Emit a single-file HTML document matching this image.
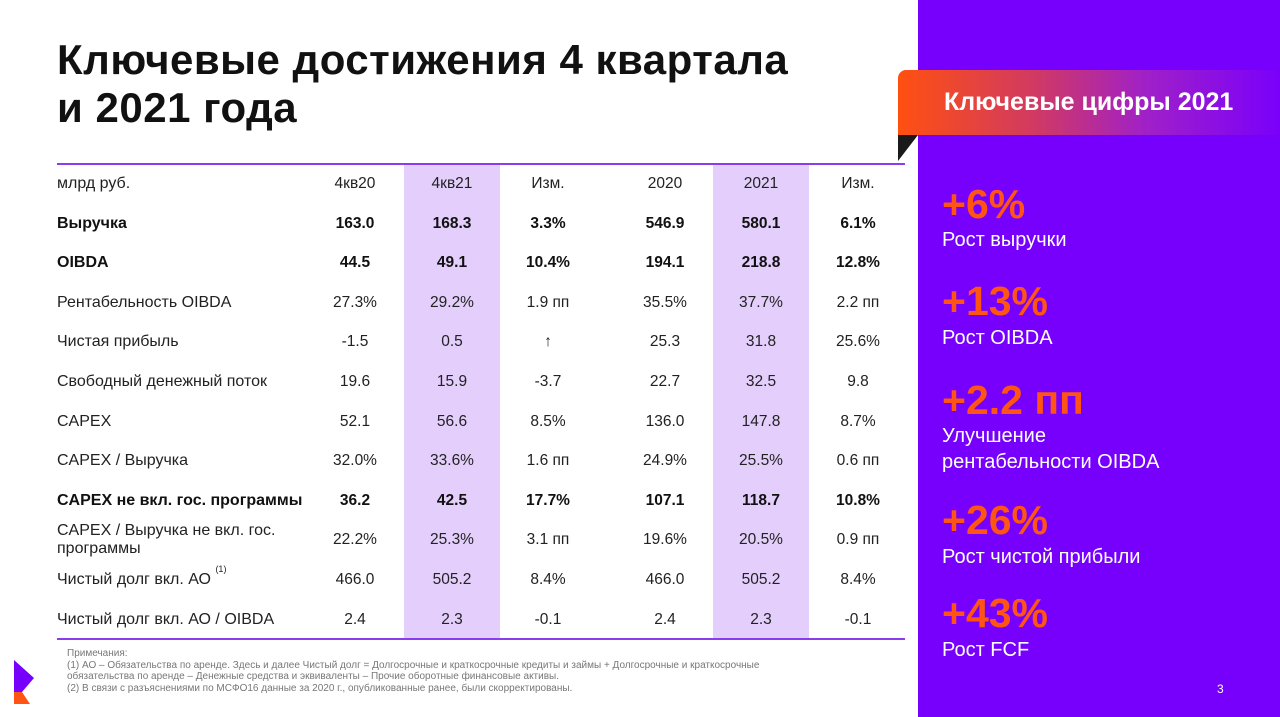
<!DOCTYPE html>
<html><head><meta charset="utf-8">
<style>
*{margin:0;padding:0;box-sizing:border-box}
body{width:1280px;height:717px;position:relative;overflow:hidden;background:#fff;font-family:"Liberation Sans","DejaVu Sans",sans-serif;color:#222}
.abs{position:absolute}
h1{position:absolute;left:57px;top:36px;font-size:42px;line-height:48px;font-weight:bold;color:#111;letter-spacing:0.5px}
.panel{position:absolute;left:918px;top:0;width:362px;height:717px;background:#7600fb}
.banner{position:absolute;left:898px;top:70px;width:382px;height:65px;border-radius:8px 0 0 0;background:linear-gradient(90deg,#ff5010 0%,#d23a60 35%,#a020c8 65%,#7a00fb 100%);color:#fff;font-size:25px;font-weight:bold;line-height:65px;padding-left:46px}
.fold{position:absolute;left:898px;top:135px;width:0;height:0;border-top:26px solid #1a1a1a;border-right:20px solid transparent}
.big{position:absolute;left:942px;color:#ff5414;font-size:41px;font-weight:bold;line-height:40px}
.lbl{position:absolute;left:942px;color:#fff;font-size:20px;line-height:26px}
.hl{position:absolute;top:165px;height:474px;background:#e4cefc}
.cell{position:absolute;font-size:15.5px;text-align:center;width:96px;line-height:18px;color:#222}
.rl{position:absolute;left:57px;font-size:16px;line-height:18px;width:270px;color:#222}
.rl sup{font-size:9px;line-height:0;position:relative;top:-2px;vertical-align:top}
.b{font-weight:bold;color:#111}
.line{position:absolute;left:57px;width:848px;height:2px;background:#8a3cf0}
.notes{position:absolute;left:67px;top:648px;font-size:10px;line-height:11.5px;color:#777;width:760px}
</style></head><body>
<h1>Ключевые достижения 4 квартала<br>и 2021 года</h1>
<div class="panel"></div>
<div class="fold"></div>
<div class="banner">Ключевые цифры 2021</div>

<div class="big" style="top:184px">+6%</div>
<div class="lbl" style="top:227px">Рост выручки</div>
<div class="big" style="top:281px">+13%</div>
<div class="lbl" style="top:325px">Рост OIBDA</div>
<div class="big" style="top:380px">+2.2 пп</div>
<div class="lbl" style="top:423px">Улучшение<br>рентабельности OIBDA</div>
<div class="big" style="top:500px">+26%</div>
<div class="lbl" style="top:544px">Рост чистой прибыли</div>
<div class="big" style="top:593px">+43%</div>
<div class="lbl" style="top:637px">Рост FCF</div>

<div class="hl" style="left:404px;width:96px"></div>
<div class="hl" style="left:713px;width:96px"></div>
<div class="line" style="top:163px"></div>
<div class="line" style="top:638px"></div>
<div id="tbl"></div>

<div class="notes">Примечания:<br>(1) АО – Обязательства по аренде. Здесь и далее Чистый долг = Долгосрочные и краткосрочные кредиты и займы + Долгосрочные и краткосрочные<br>обязательства по аренде – Денежные средства и эквиваленты – Прочие оборотные финансовые активы.<br>(2) В связи с разъяснениями по МСФО16 данные за 2020 г., опубликованные ранее, были скорректированы.</div>
<svg class="abs" style="left:8px;top:658px" width="34" height="48">
<polygon points="6,2 26,20 14,34 6,34" fill="#7600fb"/><polygon points="6,34 14,34 22,46 6,46" fill="#ff5414"/></svg>
<div class="abs" style="left:1217px;top:682px;font-size:12px;color:#fff">3</div>

<script>
const headers=["млрд руб.","4кв20","4кв21","Изм.","2020","2021","Изм."];
const rowLabels=["Выручка","OIBDA","Рентабельность OIBDA","Чистая прибыль","Свободный денежный поток","CAPEX","CAPEX / Выручка","CAPEX не вкл. гос. программы","CAPEX / Выручка не вкл. гос. программы","Чистый долг вкл. АО <sup>(1)</sup>","Чистый долг вкл. АО / OIBDA"];
const boldRows=[true,true,false,false,false,false,false,true,false,false,false];
const twoLine=[false,false,false,false,false,false,false,false,true,false,false];
const q420=["163.0","44.5","27.3%","-1.5","19.6","52.1","32.0%","36.2","22.2%","466.0","2.4"];
const q421=["168.3","49.1","29.2%","0.5","15.9","56.6","33.6%","42.5","25.3%","505.2","2.3"];
const qchg=["3.3%","10.4%","1.9 пп","↑","-3.7","8.5%","1.6 пп","17.7%","3.1 пп","8.4%","-0.1"];
const y20=["546.9","194.1","35.5%","25.3","22.7","136.0","24.9%","107.1","19.6%","466.0","2.4"];
const y21=["580.1","218.8","37.7%","31.8","32.5","147.8","25.5%","118.7","20.5%","505.2","2.3"];
const ychg=["6.1%","12.8%","2.2 пп","25.6%","9.8","8.7%","0.6 пп","10.8%","0.9 пп","8.4%","-0.1"];
const cols=[q420,q421,qchg,y20,y21,ychg];
const colX=[307,404,500,617,713,810];
const tbl=document.getElementById('tbl');
function rowY(i){return 175+i*39.6;}
headers.forEach((h,c)=>{
  const d=document.createElement('div');
  d.className=c===0?'rl':'cell';
  d.style.top=rowY(0)+'px';
  if(c>0)d.style.left=colX[c-1]+'px';
  d.textContent=h;
  
  
  tbl.appendChild(d);
});
rowLabels.forEach((lab,i)=>{
  const y=rowY(i+1);
  const l=document.createElement('div');
  l.className='rl'+(boldRows[i]?' b':'');
  l.style.top=(twoLine[i]?y-9:y)+'px';
  l.innerHTML=lab;
  
  
  tbl.appendChild(l);
  cols.forEach((col,c)=>{
    const d=document.createElement('div');
    d.className='cell'+(boldRows[i]?' b':'');
    d.style.top=y+'px';
    d.style.left=colX[c]+'px';
    d.textContent=col[i];
    
    
    tbl.appendChild(d);
  });
});
</script>
</body></html>
